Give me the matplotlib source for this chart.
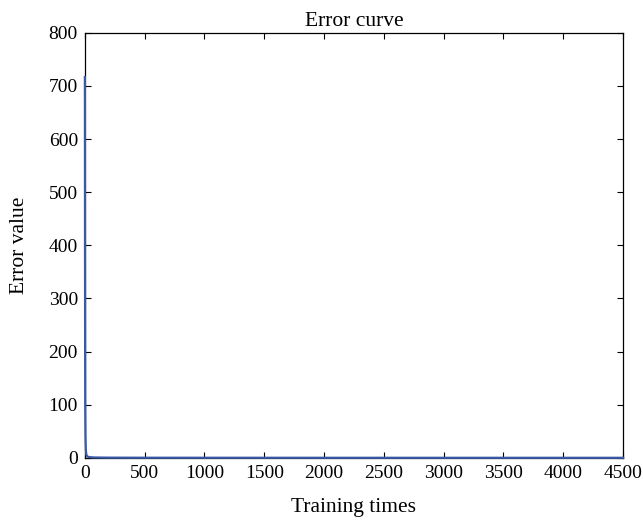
import matplotlib.pyplot as plt

# training error over iterations
training_times = [0, 1, 2, 3, 5, 8, 12, 20, 40, 80, 200, 500, 1000, 2000, 3000, 4000, 4500]
error_values = [717, 420, 210, 95, 40, 15, 6, 2.5, 1.2, 0.6, 0.3, 0.15, 0.1, 0.05, 0.03, 0.02, 0.02]

plt.rcParams["font.family"] = ["Liberation Serif", "DejaVu Serif"]
plt.rcParams["font.size"] = 15.5

fig = plt.figure(figsize=(6.43, 5.22), dpi=100)
ax = fig.add_axes([0.132, 0.123, 0.837, 0.814])
ax.plot(training_times, error_values, color="#3a5aa8", linewidth=1.6,
        clip_on=False, zorder=5)

ax.set_xlim(0, 4500)
ax.set_ylim(0, 800)
ax.set_xticks(range(0, 4501, 500))
ax.set_yticks(range(0, 801, 100))
ax.tick_params(direction="in", top=True, right=True, length=4, width=0.8,
               labelsize=14, pad=5)
for s in ax.spines.values():
    s.set_linewidth(0.9)

ax.set_title("Error curve", fontsize=15.5, pad=5)
ax.set_xlabel("Training times", fontsize=15.5, labelpad=12)
ax.set_ylabel("Error value", fontsize=15.5, labelpad=14)

fig.savefig("out.png", dpi=100)
